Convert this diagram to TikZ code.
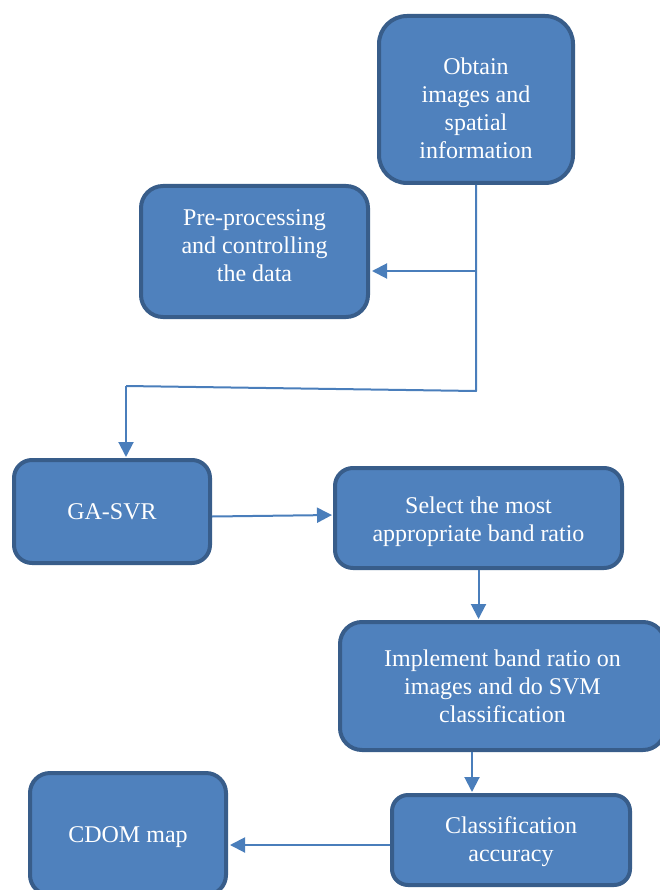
\documentclass[tikz,border=0pt]{standalone}
\usepackage{fontspec}
\setmainfont{Liberation Serif}
\usetikzlibrary{arrows.meta,shapes,positioning}
\definecolor{boxfill}{HTML}{4F81BD}
\definecolor{boxline}{HTML}{385D8A}
\definecolor{flowline}{HTML}{4A7EBB}

\begin{document}
\begin{tikzpicture}[x=1pt,y=-1pt,line join=round,>={Triangle[length=15pt,width=15pt]},
    stage/.style={rectangle,draw=boxline,fill=boxfill,line width=4pt,inner sep=0pt},
    stagetext/.style={text=white,align=center,inner sep=0pt,font=\fontsize{24}{28}\selectfont},
    flow/.style={draw=flowline,line width=2pt}]
    \useasboundingbox (0,0) rectangle (659,890);

    % boxes
    \node[stage,rounded corners=28pt,minimum width=194pt,minimum height=167pt] (obtain) at (476,99.5) {};
    \node[stage,rounded corners=22pt,minimum width=227pt,minimum height=131pt] (preproc) at (254.5,251.5) {};
    \node[stage,rounded corners=18pt,minimum width=196pt,minimum height=103pt] (gasvr) at (112,511.5) {};
    \node[stage,rounded corners=18pt,minimum width=287pt,minimum height=100pt] (select) at (478.5,518) {};
    \node[stage,rounded corners=22pt,minimum width=325pt,minimum height=128pt] (implement) at (502.5,686) {};
    \node[stage,rounded corners=16pt,minimum width=238pt,minimum height=90pt] (classacc) at (511,840) {};
    \node[stage,rounded corners=20pt,minimum width=196pt,minimum height=122pt] (cdom) at (128,834) {};

    % box texts
    \node[stagetext] (obtaintxt) at ([yshift=-9pt]obtain) {Obtain\\images and\\spatial\\information};
    \node[stagetext] (preproctxt) at ([yshift=6pt]preproc) {Pre-processing\\and controlling\\the data};
    \node[stagetext] (gasvrtxt) at (gasvr) {GA-SVR};
    \node[stagetext] (selecttxt) at ([yshift=-4pt]select) {Select the most\\appropriate band ratio};
    \node[stagetext] (implementtxt) at (implement) {Implement band ratio on\\images and do SVM\\classification};
    \node[stagetext] (classacctxt) at ([yshift=-2pt]classacc) {Classification\\accuracy};
    \node[stagetext] (cdomtxt) at ([yshift=-3pt]cdom) {CDOM map};

    % bends of the connectors
    \coordinate (split) at (476,271);
    \coordinate (bend) at (476,391);
    \coordinate (turn) at (126,386);
    \coordinate (drop) at (472,752);

    \draw[flow] (obtain.south) -- (bend) -- (turn);
    \draw[flow,->,shorten >=2pt] (split) -- (split -| preproc.east);
    \draw[flow,->,shorten >=1pt] (turn) -- (turn |- gasvr.north);
    \draw[flow,->,shorten >=1pt] ([yshift=-5pt]gasvr.east) -- ([yshift=3pt]select.west);
    \draw[flow,->,shorten >=1pt] (select.south) -- (select.south |- implement.north);
    \draw[flow,->,shorten >=1pt] (drop) -- (drop |- classacc.north);
    \draw[flow,->,shorten >=2pt] ([yshift=-5pt]classacc.west) -- ([yshift=-5pt]classacc.west -| cdom.east);
\end{tikzpicture}
\end{document}
